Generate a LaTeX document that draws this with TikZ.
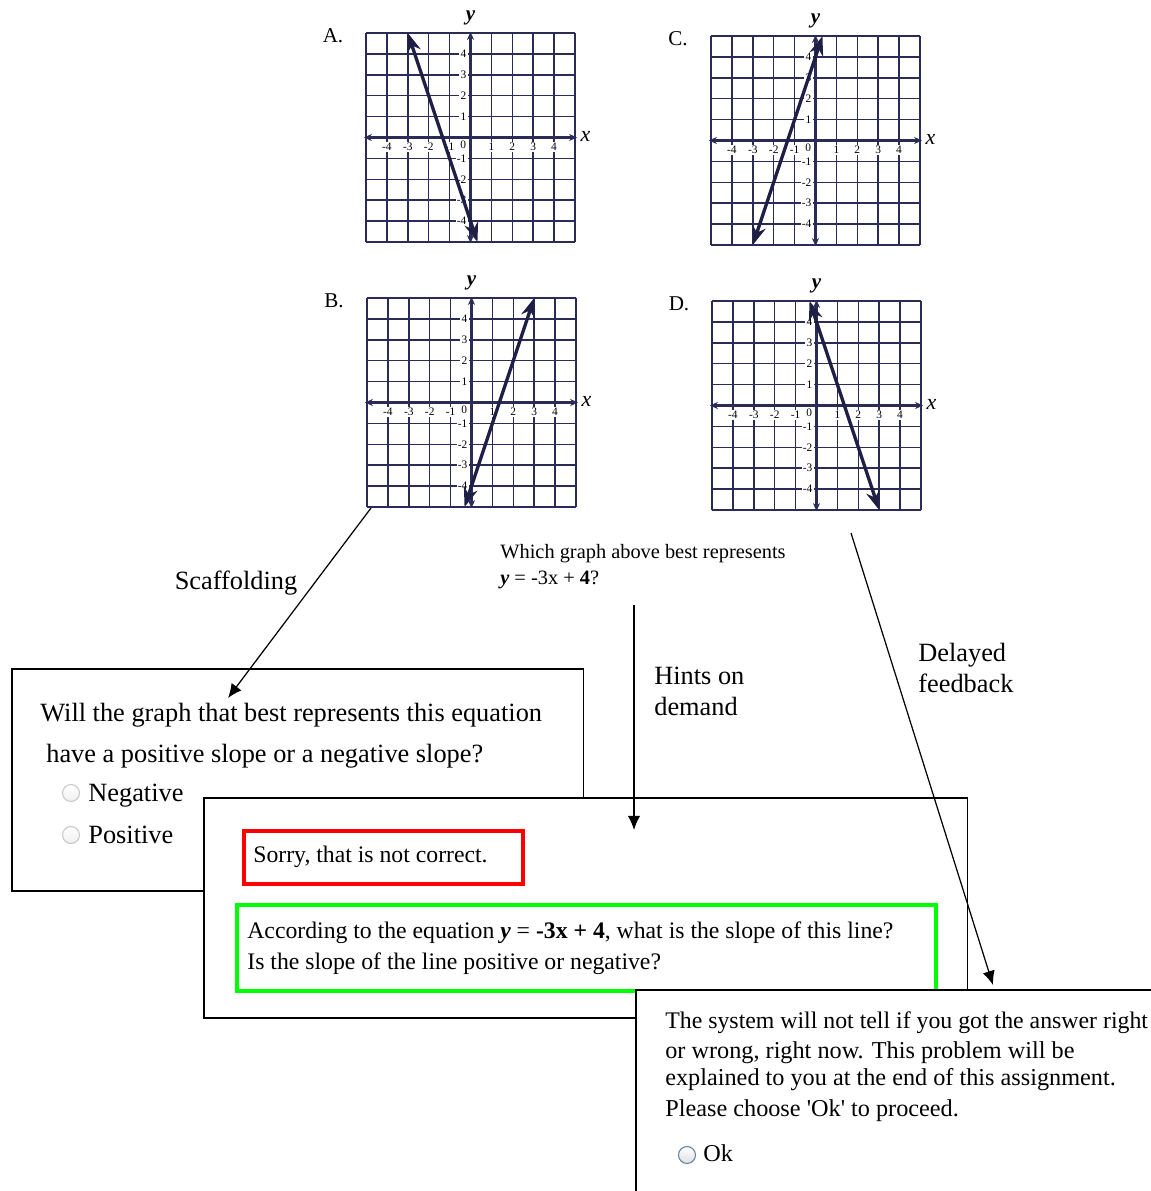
\documentclass[tikz,border=0pt]{standalone}
\usepackage{fontspec}
\setmainfont{Liberation Serif}
\usetikzlibrary{arrows.meta,calc,positioning}

\definecolor{gridnavy}{HTML}{2B2B58}
\definecolor{linenavy}{HTML}{1F1F46}
\definecolor{boxred}{HTML}{FF0000}
\definecolor{boxgreen}{HTML}{00FF00}
\definecolor{radiogrey}{HTML}{C8C8C8}
\definecolor{radioblue}{HTML}{5A82AA}

\begin{document}
\begin{tikzpicture}[x=0.02cm,y=-0.02cm,>={Latex[length=8pt,width=7pt]}]
	\tikzstyle{panel} = [draw, rectangle, line width=0.9pt, fill=white, anchor=north west, inner sep=0pt]
	\tikzstyle{framebox} = [draw, rectangle, line width=2.2pt, anchor=north west, inner sep=0pt]
	\tikzstyle{txt} = [anchor=base west, inner sep=0pt, font=\fontsize{15}{18}\selectfont]
	\tikzstyle{msgtxt} = [anchor=base west, inner sep=0pt, font=\fontsize{13.5}{16}\selectfont]
	\tikzstyle{delaytxt} = [anchor=base west, inner sep=0pt, font=\fontsize{13.8}{16}\selectfont]
	\tikzstyle{radio} = [circle, draw=radiogrey, line width=0.6pt, inner sep=0pt, minimum size=0.34cm, top color=white, bottom color=gray!12]
	\tikzstyle{gridline} = [draw=gridnavy, line width=0.85pt]
	\tikzstyle{axisline} = [draw=gridnavy, line width=1.2pt, arrows={Stealth[length=4.5pt,width=4pt]-Stealth[length=4.5pt,width=4pt]}]
	\tikzstyle{graphline} = [draw=linenavy, line width=1.9pt, arrows={Stealth[length=11pt,width=8pt]-Stealth[length=11pt,width=8pt]}]
	\tikzstyle{ticklab} = [fill=white, inner sep=0.7pt, font=\fontsize{6.5}{7}\selectfont]

	\useasboundingbox (0,0) rectangle (1151,1191);
	\clip (0,0) rectangle (1151,1191);

	% the four answer graphs
	\foreach \lab/\cx/\cy/\ax/\ay/\bx/\by in {A/470.5/137.5/-3/5/0.333/-5, C/815.5/140.5/-3/-5/0.333/5, B/471.5/402.5/-0.333/-5/3/5, D/816.5/405.5/-0.333/5/3/-5}{
		\begin{scope}[shift={(\cx,\cy)},x=0.418cm,y=0.418cm]
			\foreach \k in {-5,...,5}{
				\draw[gridline] (\k,-5) -- (\k,5);
				\draw[gridline] (-5,\k) -- (5,\k);
			}
			\foreach \t in {-4,-3,-2,-1,1,2,3,4}{
				\node[ticklab] (xt\lab\t) at (\t,-0.45) {\t};
				\node[ticklab, anchor=east] (yt\lab\t) at (-0.12,\t) {\t};
			}
			\node[ticklab] (zero\lab) at (-0.35,-0.33) {0};
			\draw[axisline] (-5.1,0) -- (5.1,0);
			\draw[axisline] (0,-5.05) -- (0,5.05);
			\draw[graphline] (\ax,\ay) -- (\bx,\by);
			\node[font=\fontsize{12}{14}\selectfont] (lab\lab) at (-6.58,4.88) {\lab.};
			\node[font=\fontsize{12.5}{14}\selectfont\itshape] (xlab\lab) at (5.5,0.05) {x};
			\node[font=\fontsize{12}{14}\selectfont\bfseries\itshape] (ylab\lab) at (0,5.7) {y};
		\end{scope}
	}

	% the question
	\node[anchor=base west, inner sep=0pt, font=\fontsize{11.6}{14}\selectfont] (question) at (500,558) {Which graph above best represents};
	\node[anchor=base west, inner sep=0pt, font=\fontsize{11.6}{14}\selectfont] (equation) at (500,584) {{\bfseries\itshape y} = -3x + {\bfseries 4}?};

	% scaffolding question
	\node[panel, minimum width=11.44cm, minimum height=4.44cm] (scafbox) at (11,668) {};
	\node[txt] (scafline1) at (40,721) {Will the graph that best represents this equation};
	\node[txt] (scafline2) at (46,762) {have a positive slope or a negative slope?};
	\node[radio] (negradio) at (71,793) {};
	\node[txt] (negtxt) at (88,801) {Negative};
	\node[radio] (posradio) at (71,835) {};
	\node[txt] (postxt) at (88,843) {Positive};

	% hint messages
	\node[panel, minimum width=15.28cm, minimum height=4.4cm] (hintbox) at (203,797) {};
	\node[framebox, draw=boxred, minimum width=5.58cm, minimum height=1.06cm] (sorrybox) at (242,829) {};
	\node[msgtxt] (sorrytxt) at (253,862) {Sorry, that is not correct.};
	\node[framebox, draw=boxgreen, minimum width=13.98cm, minimum height=1.72cm] (hintmsg) at (235,903) {};
	\node[msgtxt] (hintline1) at (247,938) {According to the equation {\bfseries\itshape y} = {\bfseries -3x + 4}, what is the slope of this line?};
	\node[msgtxt] (hintline2) at (247,969) {Is the slope of the line positive or negative?};

	% delayed feedback message
	\node[panel, minimum width=11cm, minimum height=5cm] (delaybox) at (635,989) {};
	\node[delaytxt, font=\fontsize{13.55}{16}\selectfont] (delayline1) at (665,1028) {The system will not tell if you got the answer right};
	\node[delaytxt] (delayline2) at (665,1058) {or wrong, right now. This problem will be};
	\node[delaytxt] (delayline3) at (665,1085) {explained to you at the end of this assignment.};
	\node[delaytxt] (delayline4) at (665,1116) {Please choose \textquotesingle Ok\textquotesingle{} to proceed.};
	\node[radio, draw=radioblue, bottom color=gray!25] (okradio) at (687,1155) {};
	\node[delaytxt] (oktxt) at (703,1161) {Ok};

	% connectors
	\coordinate (scafstart) at (371,508);
	\coordinate (scaftip) at (228,698);
	\coordinate (hintstart) at (634,605);
	\coordinate (hinttip) at (634,830);
	\coordinate (delaystart) at (851,533);
	\coordinate (delaytip) at (993,985);

	\draw [->, line width=0.7pt] (scafstart) -- (scaftip);
	\draw [->, line width=0.7pt] (hintstart) -- (hinttip);
	\draw [->, line width=0.7pt] (delaystart) -- (delaytip);

	\node[anchor=center, font=\fontsize{15}{18}\selectfont] (scaflab) at (236,583) {Scaffolding};
	\node[anchor=north west, align=left, inner sep=0pt, font=\fontsize{15}{17.6}\selectfont] (hintlab) at (654,667) {Hints on\\demand};
	\node[anchor=north west, align=left, inner sep=0pt, font=\fontsize{15}{17.6}\selectfont] (delaylab) at (918,643) {Delayed\\feedback};

\end{tikzpicture}
\end{document}
